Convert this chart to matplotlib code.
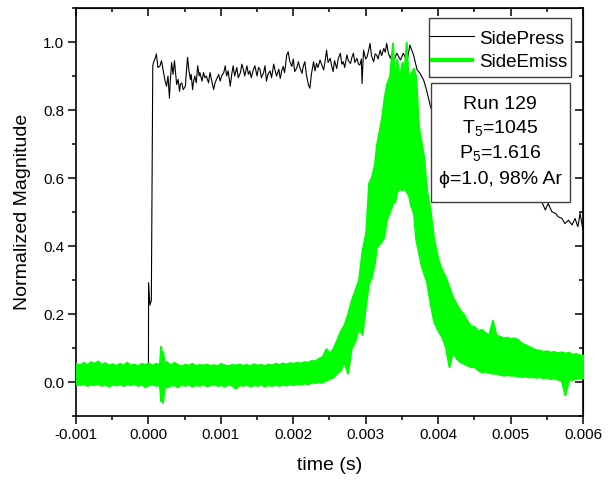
import numpy as np
import matplotlib
matplotlib.use('Agg')
import matplotlib.pyplot as plt
from matplotlib.patches import Rectangle
from matplotlib.ticker import MultipleLocator, FormatStrFormatter

plt.rcParams['font.family'] = ['Liberation Sans', 'DejaVu Sans']
plt.rcParams['mathtext.fontset'] = 'custom'
plt.rcParams['mathtext.rm'] = 'Liberation Sans'
plt.rcParams['mathtext.it'] = 'Liberation Sans:italic'

# SidePress trace
press_t = [-0.00100, -0.00050, -0.00001, 0.00000, 0.000002, 0.00002, 0.00004, 0.00006,
           0.00007, 0.00009, 0.00011, 0.00013, 0.00016, 0.00018, 0.00021, 0.00023,
           0.00025, 0.00027, 0.00029, 0.00030, 0.00032, 0.00034, 0.00036, 0.00037,
           0.00039, 0.00041, 0.00043, 0.00044, 0.00046, 0.00048, 0.00051, 0.00052,
           0.00054, 0.00056, 0.00058, 0.00059, 0.00061, 0.00062, 0.00064, 0.00066,
           0.00068, 0.00070, 0.00071, 0.00074, 0.00076, 0.00078, 0.00080, 0.00083,
           0.00085, 0.00087, 0.00090, 0.00092, 0.00094, 0.00097, 0.00099, 0.00101,
           0.00104, 0.00106, 0.00108, 0.00110, 0.00113, 0.00115, 0.00117, 0.00119,
           0.00122, 0.00124, 0.00127, 0.00129, 0.00131, 0.00133, 0.00136, 0.00138,
           0.00140, 0.00142, 0.00145, 0.00147, 0.00150, 0.00152, 0.00154, 0.00156,
           0.00159, 0.00161, 0.00163, 0.00165, 0.00168, 0.00170, 0.00173, 0.00175,
           0.00177, 0.00180, 0.00182, 0.00184, 0.00186, 0.00188, 0.00191, 0.00193,
           0.00195, 0.00198, 0.00200, 0.00202, 0.00205, 0.00207, 0.00209, 0.00212,
           0.00214, 0.00216, 0.00218, 0.00221, 0.00223, 0.00225, 0.00228, 0.00230,
           0.00232, 0.00234, 0.00237, 0.00239, 0.00242, 0.00244, 0.00246, 0.00248,
           0.00251, 0.00253, 0.00255, 0.00257, 0.00260, 0.00262, 0.00265, 0.00267,
           0.00269, 0.00271, 0.00274, 0.00276, 0.00279, 0.00281, 0.00283, 0.00285,
           0.00288, 0.00290, 0.00292, 0.00294, 0.00295, 0.00297, 0.00300, 0.00302,
           0.00304, 0.00306, 0.00308, 0.00311, 0.00313, 0.00315, 0.00317, 0.00320,
           0.00322, 0.00325, 0.00327, 0.00329, 0.00331, 0.00334, 0.00336, 0.00338,
           0.00343, 0.00348, 0.00352, 0.00357, 0.00361, 0.00366, 0.00371, 0.00375,
           0.00380, 0.00384, 0.00389, 0.00391, 0.00400, 0.00410, 0.00420, 0.00440,
           0.00460, 0.00480, 0.00500, 0.00520, 0.00535, 0.00542, 0.00545, 0.00548,
           0.00552, 0.00557, 0.00562, 0.00566, 0.00571, 0.00575, 0.00580, 0.00585,
           0.00589, 0.00593, 0.00596, 0.00600]
press_v = [0.025, 0.028, 0.030, 0.050, 0.292, 0.226, 0.240, 0.930,
           0.940, 0.950, 0.965, 0.925, 0.930, 0.945, 0.910, 0.885,
           0.870, 0.900, 0.835, 0.880, 0.940, 0.905, 0.945, 0.920,
           0.875, 0.890, 0.855, 0.875, 0.880, 0.860, 0.870, 0.900,
           0.955, 0.915, 0.890, 0.905, 0.860, 0.880, 0.900, 0.880,
           0.930, 0.900, 0.910, 0.885, 0.910, 0.895, 0.900, 0.880,
           0.910, 0.890, 0.860, 0.880, 0.890, 0.905, 0.885, 0.900,
           0.910, 0.930, 0.900, 0.915, 0.870, 0.905, 0.930, 0.900,
           0.925, 0.895, 0.910, 0.935, 0.920, 0.900, 0.930, 0.905,
           0.915, 0.895, 0.920, 0.930, 0.900, 0.925, 0.920, 0.895,
           0.910, 0.930, 0.885, 0.905, 0.915, 0.895, 0.935, 0.915,
           0.900, 0.920, 0.893, 0.915, 0.928, 0.910, 0.962, 0.971,
           0.945, 0.928, 0.950, 0.913, 0.925, 0.942, 0.925, 0.908,
           0.930, 0.942, 0.905, 0.873, 0.864, 0.905, 0.942, 0.915,
           0.937, 0.925, 0.947, 0.935, 0.918, 0.945, 0.976, 0.940,
           0.952, 0.930, 0.913, 0.945, 0.922, 0.950, 0.967, 0.935,
           0.942, 0.925, 0.962, 0.945, 0.937, 0.955, 0.967, 0.940,
           0.952, 0.935, 0.932, 0.950, 0.878, 0.976, 0.950, 0.957,
           0.975, 0.996, 0.960, 0.942, 0.965, 0.962, 0.950, 0.976,
           0.960, 0.981, 0.970, 0.996, 0.970, 0.952, 0.965, 0.942,
           0.967, 0.947, 0.967, 0.942, 0.991, 0.962, 0.918, 0.908,
           0.888, 0.859, 0.814, 0.800, 0.760, 0.720, 0.700, 0.660,
           0.630, 0.610, 0.590, 0.560, 0.540, 0.535, 0.521, 0.506,
           0.525, 0.501, 0.496, 0.486, 0.481, 0.466, 0.476, 0.462,
           0.481, 0.457, 0.496, 0.447]

# SideEmiss trace: upper and lower edge of the noisy band
emiss_t = [-0.00100, -0.00095, -0.00090, -0.00085, -0.00080, -0.00075, -0.00070, -0.00065,
           -0.00060, -0.00055, -0.00050, -0.00045, -0.00040, -0.00035, -0.00030, -0.00025,
           -0.00020, -0.00015, -0.00010, -0.00005, 0.00000, 0.00005, 0.00010, 0.00015,
           0.00017, 0.00018, 0.000195, 0.00022, 0.00025, 0.00030, 0.00035, 0.00040,
           0.00045, 0.00050, 0.00055, 0.00060, 0.00065, 0.00070, 0.00075, 0.00080,
           0.00085, 0.00090, 0.00095, 0.00100, 0.00105, 0.00110, 0.00115, 0.00120,
           0.00125, 0.00130, 0.00135, 0.00140, 0.00145, 0.00150, 0.00155, 0.00160,
           0.00165, 0.00170, 0.00175, 0.00180, 0.00185, 0.00190, 0.00195, 0.00200,
           0.00205, 0.00210, 0.00215, 0.00220, 0.00225, 0.00230, 0.00235, 0.00240,
           0.00245, 0.00250, 0.00255, 0.00260, 0.00265, 0.00270, 0.00275, 0.00280,
           0.00285, 0.00290, 0.00295, 0.00300, 0.00304, 0.00308, 0.00312, 0.00315,
           0.00318, 0.00322, 0.00325, 0.00329, 0.00333, 0.00337, 0.00340, 0.00343,
           0.00346, 0.00350, 0.00353, 0.00356, 0.00359, 0.00362, 0.00366, 0.00369,
           0.00373, 0.00377, 0.00380, 0.00384, 0.00389, 0.00394, 0.00400, 0.00405,
           0.00410, 0.00415, 0.00420, 0.00425, 0.00430, 0.00435, 0.00440, 0.00445,
           0.00450, 0.00455, 0.00460, 0.00465, 0.00470, 0.00475, 0.00480, 0.00485,
           0.00490, 0.00495, 0.00500, 0.00505, 0.00510, 0.00515, 0.00520, 0.00525,
           0.00530, 0.00535, 0.00540, 0.00545, 0.00550, 0.00555, 0.00560, 0.00565,
           0.00570, 0.00575, 0.00580, 0.00585, 0.00590, 0.00595, 0.00600]
emiss_hi = [0.055, 0.050, 0.058, 0.050, 0.060, 0.055, 0.062, 0.052,
            0.057, 0.050, 0.054, 0.049, 0.055, 0.050, 0.058, 0.050,
            0.053, 0.048, 0.055, 0.052, 0.056, 0.050, 0.055, 0.052,
            0.105, 0.080, 0.090, 0.058, 0.060, 0.050, 0.058, 0.052,
            0.048, 0.052, 0.050, 0.055, 0.048, 0.052, 0.050, 0.053,
            0.049, 0.051, 0.048, 0.055, 0.050, 0.048, 0.052, 0.050,
            0.053, 0.049, 0.052, 0.048, 0.054, 0.050, 0.052, 0.048,
            0.053, 0.050, 0.055, 0.052, 0.056, 0.053, 0.057, 0.055,
            0.058, 0.056, 0.060, 0.058, 0.064, 0.062, 0.070, 0.075,
            0.098, 0.085, 0.100, 0.124, 0.150, 0.168, 0.200, 0.240,
            0.270, 0.300, 0.388, 0.440, 0.585, 0.604, 0.640, 0.700,
            0.732, 0.780, 0.830, 0.879, 0.900, 0.997, 0.880, 0.950,
            0.890, 0.940, 0.920, 1.000, 0.870, 0.908, 0.923, 0.900,
            0.751, 0.700, 0.663, 0.565, 0.506, 0.420, 0.360, 0.330,
            0.310, 0.280, 0.250, 0.230, 0.212, 0.200, 0.180, 0.165,
            0.163, 0.150, 0.155, 0.145, 0.140, 0.182, 0.138, 0.135,
            0.130, 0.132, 0.128, 0.130, 0.125, 0.115, 0.110, 0.105,
            0.100, 0.095, 0.094, 0.090, 0.092, 0.088, 0.090, 0.086,
            0.089, 0.085, 0.088, 0.082, 0.084, 0.080, 0.079]
emiss_lo = [-0.005, -0.008, -0.004, -0.010, -0.006, -0.008, -0.004, -0.010,
            -0.006, -0.012, -0.006, -0.009, -0.005, -0.010, -0.006, -0.008,
            -0.004, -0.010, -0.006, -0.014, -0.008, -0.006, -0.010, -0.008,
            -0.055, -0.030, -0.060, -0.012, -0.015, -0.010, -0.008, -0.014,
            -0.006, -0.010, -0.006, -0.012, -0.008, -0.010, -0.006, -0.011,
            -0.008, -0.006, -0.010, -0.008, -0.012, -0.006, -0.009, -0.018,
            -0.008, -0.010, -0.006, -0.012, -0.008, -0.010, -0.006, -0.012,
            -0.008, -0.010, -0.007, -0.010, -0.006, -0.009, -0.005, -0.008,
            -0.004, -0.006, -0.003, -0.005, 0.000, -0.002, 0.002, 0.000,
            0.006, 0.010, 0.015, 0.026, 0.035, 0.060, 0.026, 0.100,
            0.120, 0.160, 0.140, 0.230, 0.290, 0.310, 0.350, 0.398,
            0.405, 0.415, 0.427, 0.480, 0.500, 0.526, 0.530, 0.560,
            0.570, 0.565, 0.570, 0.560, 0.550, 0.520, 0.496, 0.420,
            0.380, 0.339, 0.320, 0.295, 0.230, 0.177, 0.150, 0.133,
            0.104, 0.045, 0.090, 0.070, 0.060, 0.055, 0.050, 0.045,
            0.045, 0.035, 0.030, 0.032, 0.028, 0.026, 0.026, 0.022,
            0.020, 0.022, 0.020, 0.020, 0.018, 0.016, 0.018, 0.015,
            0.016, 0.014, 0.016, 0.012, 0.014, 0.010, 0.012, 0.008,
            0.006, -0.038, 0.006, 0.008, 0.010, 0.012, 0.012]

legend_labels = ['SidePress', 'SideEmiss']
ann_lines = ['Run 129', 'T$_\\mathregular{5}$=1045', 'P$_\\mathregular{5}$=1.616', 'ϕ=1.0, 98% Ar']

green = '#00ff00'
frame_col = '#404040'

fig = plt.figure(figsize=(6.13, 4.83), dpi=100)
ax = fig.add_axes([0.124, 0.1387, 0.827, 0.8447])

ax.plot(press_t, press_v, color='black', lw=0.8, zorder=2)
ax.fill_between(emiss_t, emiss_lo, emiss_hi, facecolor=green, edgecolor=green,
                lw=1.4, zorder=3)

ax.set_xlim(-0.001, 0.006)
ax.set_ylim(-0.1, 1.1)
ax.xaxis.set_major_locator(MultipleLocator(0.001))
ax.xaxis.set_minor_locator(MultipleLocator(0.0005))
ax.yaxis.set_major_locator(MultipleLocator(0.2))
ax.yaxis.set_minor_locator(MultipleLocator(0.1))
ax.xaxis.set_major_formatter(FormatStrFormatter('%.3f'))
ax.yaxis.set_major_formatter(FormatStrFormatter('%.1f'))
ax.tick_params(which='both', direction='out', width=1.1, labelsize=11, pad=3)
ax.tick_params(which='major', length=5.5)
ax.tick_params(which='minor', length=3)
for sp in ax.spines.values():
    sp.set_linewidth(1.2)

# mirrored ticks on top and right, pointing in
top = ax.secondary_xaxis('top')
top.xaxis.set_major_locator(MultipleLocator(0.001))
top.xaxis.set_minor_locator(MultipleLocator(0.0005))
top.tick_params(which='both', direction='in', labeltop=False, width=1.1)
top.tick_params(which='major', length=5.5)
top.tick_params(which='minor', length=3)
right = ax.secondary_yaxis('right')
right.yaxis.set_major_locator(MultipleLocator(0.2))
right.yaxis.set_minor_locator(MultipleLocator(0.1))
right.tick_params(which='both', direction='in', labelright=False, width=1.1)
right.tick_params(which='major', length=5.5)
right.tick_params(which='minor', length=3)

ax.set_xlabel('time (s)', fontsize=14, labelpad=11)
ax.set_ylabel('Normalized Magnitude', fontsize=14, labelpad=9)

# legend box, Origin style
ax.add_patch(Rectangle((0.696, 0.8316), 0.280, 0.1432, transform=ax.transAxes,
                       facecolor='white', edgecolor=frame_col, lw=1.0, zorder=5))
ax.plot([0.698, 0.785], [0.9314, 0.9314], transform=ax.transAxes,
        color='black', lw=0.8, zorder=6)
ax.plot([0.698, 0.785], [0.8725, 0.8725], transform=ax.transAxes,
        color=green, lw=3, solid_capstyle='butt', zorder=6)
for s, yy in zip(legend_labels, [0.9130, 0.8545]):
    ax.text(0.7955, yy, s, transform=ax.transAxes, ha='left', va='baseline',
            fontsize=13.5, zorder=6)

# run info box
ax.add_patch(Rectangle((0.700, 0.525), 0.274, 0.291, transform=ax.transAxes,
                       facecolor='white', edgecolor=frame_col, lw=1.0, zorder=5))
for s, yy in zip(ann_lines, [0.752, 0.693, 0.632, 0.568]):
    ax.text(0.837, yy, s, transform=ax.transAxes, ha='center', va='baseline',
            fontsize=14, zorder=6)

fig.savefig('out.png', dpi=100)
